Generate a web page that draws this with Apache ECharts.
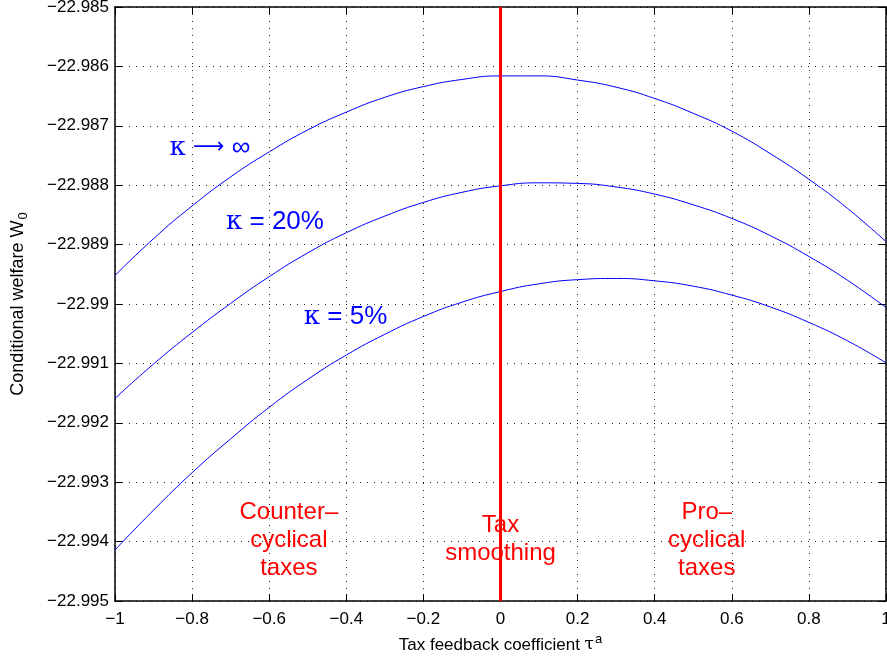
<!DOCTYPE html>
<html lang="en">
<head>
<meta charset="UTF-8">
<title>Conditional welfare vs tax feedback coefficient</title>
<script src="https://cdn.jsdelivr.net/npm/echarts@6/dist/echarts.min.js"></script>
<style>
  html, body { margin: 0; padding: 0; background: #fff; }
</style>
</head>
<body>
<div id="main" style="width:887px; height:656px;"></div>
<script type="text/javascript">
// tax feedback coefficient (x axis) and welfare
var tau = [-1, -0.9, -0.8, -0.7, -0.6, -0.5, -0.4, -0.3, -0.2, -0.1, 0,
           0.1, 0.2, 0.3, 0.4, 0.5, 0.6, 0.7, 0.8, 0.9, 1];
var wInf = [-22.98952, -22.98890, -22.98835, -22.98786, -22.98744, -22.98707, -22.98677, -22.98652, -22.98634, -22.98622, -22.98616,
            -22.98616, -22.98623, -22.98635, -22.98654, -22.98679, -22.98709, -22.98747, -22.98790, -22.98839, -22.98895];
var w20 = [-22.99159, -22.99101, -22.99048, -22.98999, -22.98954, -22.98914, -22.98880, -22.98852, -22.98829, -22.98812, -22.98801,
           -22.98796, -22.98797, -22.98803, -22.98815, -22.98833, -22.98856, -22.98885, -22.98920, -22.98960, -22.99006];
var w5 = [-22.99414, -22.99347, -22.99284, -22.99227, -22.99174, -22.99127, -22.99086, -22.99051, -22.99021, -22.98997, -22.98979,
          -22.98966, -22.98959, -22.98957, -22.98961, -22.98970, -22.98985, -22.99005, -22.99031, -22.99062, -22.99099];

// in-plot annotations: [x, y, text]
var kappaLabels = [
  [-0.754, -22.98737, '{k|κ} {a|⟶} ∞'],
  [-0.585, -22.98862, '{k|κ} = 20%'],
  [-0.402, -22.99022, '{k|κ} = 5%']
];
var regimeLabels = [
  [-0.549, -22.99398, 'Counter–\ncyclical\ntaxes'],
  [0, -22.99396, 'Tax\nsmoothing'],
  [0.535, -22.99398, 'Pro–\ncyclical\ntaxes']
];

var FONT = 'Liberation Sans, Arial, Helvetica, sans-serif';

function pairs(ys) {
  return tau.map(function (t, i) { return [t, ys[i]]; });
}
function yFmt(v) {
  return String(parseFloat(v.toFixed(3))).replace('-', '−');
}
function xFmt(v) {
  return String(parseFloat(v.toFixed(1))).replace('-', '−');
}

var myChart = echarts.init(document.getElementById('main'));

var curveStyle = { color: '#0000ff', width: 1 };
var gridLine = { show: true, lineStyle: { type: [1, 6], color: '#222', width: 1 } };
var axisLine = { show: true, onZero: false, lineStyle: { color: '#000', width: 1.5 } };
var tick = { show: true, inside: true, length: 7, lineStyle: { color: '#000', width: 1 } };

myChart.setOption({
  backgroundColor: '#fff',
  animation: false,
  grid: { left: 115, right: 1, top: 7, bottom: 55, outerBoundsMode: 'none' },
  xAxis: [{
    type: 'value',
    min: -1, max: 1, interval: 0.2,
    axisLine: axisLine,
    axisTick: tick,
    splitLine: gridLine,
    axisLabel: { color: '#000', fontSize: 17, fontFamily: FONT, margin: 10, formatter: xFmt, hideOverlap: false },
    name: 'Tax feedback coefficient {g|τ}{sup|a}',
    nameLocation: 'middle',
    nameGap: 32,
    nameTextStyle: {
      color: '#000', fontSize: 17, fontFamily: FONT,
      rich: {
        g: { fontSize: 17, fontFamily: 'DejaVu Serif', color: '#000' },
        sup: { fontSize: 13, fontFamily: FONT, color: '#000', padding: [0, 0, 11, 1] }
      }
    }
  }, {
    type: 'value', position: 'top',
    min: -1, max: 1, interval: 0.2,
    axisLine: axisLine, axisTick: tick,
    axisLabel: { show: false }, splitLine: { show: false }
  }],
  yAxis: [{
    type: 'value',
    min: -22.995, max: -22.985, interval: 0.001,
    axisLine: axisLine,
    axisTick: tick,
    splitLine: gridLine,
    axisLabel: { color: '#000', fontSize: 17, fontFamily: FONT, margin: 6, formatter: yFmt },
    name: 'Conditional welfare W{sub|0}',
    nameLocation: 'middle',
    nameGap: 85,
    nameTextStyle: {
      color: '#000', fontSize: 18, fontFamily: FONT,
      rich: {
        sub: { fontSize: 13, fontFamily: FONT, color: '#000', padding: [11, 0, 0, 1] }
      }
    }
  }, {
    type: 'value', position: 'right',
    min: -22.995, max: -22.985, interval: 0.001,
    axisLine: axisLine, axisTick: tick,
    axisLabel: { show: false }, splitLine: { show: false }
  }],
  series: [{
    name: 'kappa inf', type: 'line', data: pairs(wInf), smooth: 0.5,
    showSymbol: false, lineStyle: curveStyle, itemStyle: { color: '#0000ff' },
    markLine: {
      silent: true, symbol: 'none', label: { show: false },
      lineStyle: { color: '#ff0000', width: 3, type: 'solid', opacity: 1 },
      data: [{ xAxis: 0 }]
    }
  }, {
    name: 'kappa 20', type: 'line', data: pairs(w20), smooth: 0.5,
    showSymbol: false, lineStyle: curveStyle, itemStyle: { color: '#0000ff' }
  }, {
    name: 'kappa 5', type: 'line', data: pairs(w5), smooth: 0.5,
    showSymbol: false, lineStyle: curveStyle, itemStyle: { color: '#0000ff' }
  }, {
    name: 'kappa labels', type: 'scatter', symbolSize: 0, silent: true,
    data: kappaLabels,
    itemStyle: { opacity: 1 },
    label: {
      show: true, position: 'inside', opacity: 1,
      color: '#0000ff', fontSize: 26, fontFamily: FONT,
      formatter: function (p) { return p.data[2]; },
      rich: {
        k: { fontSize: 26, fontFamily: 'DejaVu Serif', color: '#0000ff' },
        a: { fontSize: 22, fontFamily: 'DejaVu Sans', color: '#0000ff' }
      }
    }
  }, {
    name: 'regime labels', type: 'scatter', symbolSize: 0, silent: true,
    data: regimeLabels,
    itemStyle: { opacity: 1 },
    label: {
      show: true, position: 'inside', align: 'center', opacity: 1,
      color: '#ff0000', fontSize: 24, lineHeight: 28, fontFamily: FONT,
      formatter: function (p) { return p.data[2]; }
    }
  }]
});
</script>
</body>
</html>
